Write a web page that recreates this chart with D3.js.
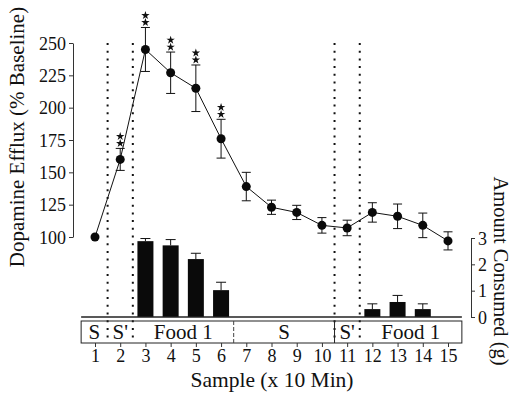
<!DOCTYPE html>
<html>
<head>
<meta charset="utf-8">
<script src="https://cdn.jsdelivr.net/npm/d3@7"></script>
<style>
  body { margin: 0; background: #fff; }
</style>
</head>
<body>
<svg id="chart" width="513" height="395" font-family="Liberation Serif"></svg>
<script>
var samples = [1,2,3,4,5,6,7,8,9,10,11,12,13,14,15]
var efflux = [100,160,245,227,215,176,139,123,119,109,107,119,116,109,97]
var effluxErr = [0,8.5,17,16,18,15,11,5.5,5.5,6,6,7.5,9.5,9.5,7]
var stars = [2,3,4,5,6]
var foodSamples = [3,4,5,6,12,13,14]
var foodAmount = [2.88,2.72,2.2,1.02,0.3,0.57,0.3]
var foodErr = [0.1,0.22,0.22,0.3,0.2,0.25,0.2]
var phases = [
  {label: "S", from: 0.45, to: 1.5},
  {label: "S'", from: 1.5, to: 2.5},
  {label: "Food 1", from: 2.5, to: 6.5},
  {label: "S", from: 6.5, to: 10.5},
  {label: "S'", from: 10.5, to: 11.5},
  {label: "Food 1", from: 11.5, to: 15.55}
]
var dividers = [1.5, 2.5, 10.5, 11.5]
var serif = "Liberation Serif"

var svg = d3.select("#chart")

var xScale = d3.scaleLinear().domain([1, 15]).range([95, 448])
var yScale = d3.scaleLinear().domain([100, 250]).range([237, 43])
var gScale = d3.scaleLinear().domain([0, 3]).range([317, 238])

// dotted phase lines
svg.append("g").selectAll("line")
   .data(dividers)
   .enter()
   .append("line")
   .attr("x1", d => xScale(d)).attr("x2", d => xScale(d))
   .attr("y1", 43).attr("y2", 343)
   .attr("stroke", "#111")
   .attr("stroke-width", 2)
   .attr("stroke-dasharray", "2,5.7")

// bars
svg.append("g").selectAll("rect")
   .data(foodSamples)
   .enter()
   .append("rect")
   .attr("x", d => xScale(d) - 8)
   .attr("y", (d, i) => gScale(foodAmount[i]))
   .attr("width", 16)
   .attr("height", (d, i) => gScale(0) - gScale(foodAmount[i]))
   .attr("fill", "#0a0a0a")

var barErr = svg.append("g").attr("stroke", "#111").attr("stroke-width", 1)
foodSamples.forEach(function(d, i) {
  var top = gScale(foodAmount[i] + foodErr[i])
  barErr.append("line").attr("x1", xScale(d)).attr("x2", xScale(d))
        .attr("y1", gScale(foodAmount[i])).attr("y2", top)
  barErr.append("line").attr("x1", xScale(d) - 5).attr("x2", xScale(d) + 5)
        .attr("y1", top).attr("y2", top)
})

// baseline of bars
svg.append("line")
   .attr("x1", xScale(0.45)).attr("x2", xScale(15.55))
   .attr("y1", gScale(0)).attr("y2", gScale(0))
   .attr("stroke", "#222").attr("stroke-width", 1.5)

// phase band
var band = svg.append("g")
band.append("rect")
    .attr("x", xScale(0.45)).attr("y", 321)
    .attr("width", xScale(15.55) - xScale(0.45)).attr("height", 22)
    .attr("fill", "none").attr("stroke", "#222").attr("stroke-width", 1)
band.append("line")
    .attr("x1", xScale(6.5)).attr("x2", xScale(6.5))
    .attr("y1", 321).attr("y2", 343)
    .attr("stroke", "#444").attr("stroke-width", 1).attr("stroke-dasharray", "4,2")
band.append("line")
    .attr("x1", xScale(10.5)).attr("x2", xScale(10.5))
    .attr("y1", 321).attr("y2", 343)
    .attr("stroke", "#222").attr("stroke-width", 1)
band.selectAll("text")
    .data(phases)
    .enter()
    .append("text")
    .attr("x", d => xScale((d.from + d.to) / 2))
    .attr("y", 339)
    .attr("text-anchor", "middle")
    .attr("font-family", serif)
    .attr("font-size", 21)
    .attr("fill", "#111")
    .text(d => d.label)

// efflux error bars
var errG = svg.append("g").attr("stroke", "#111").attr("stroke-width", 1)
samples.forEach(function(d, i) {
  if (!effluxErr[i]) return
  var hi = yScale(efflux[i] + effluxErr[i]), lo = yScale(efflux[i] - effluxErr[i])
  errG.append("line").attr("x1", xScale(d)).attr("x2", xScale(d)).attr("y1", hi).attr("y2", lo)
  errG.append("line").attr("x1", xScale(d) - 4.5).attr("x2", xScale(d) + 4.5).attr("y1", hi).attr("y2", hi)
  errG.append("line").attr("x1", xScale(d) - 4.5).attr("x2", xScale(d) + 4.5).attr("y1", lo).attr("y2", lo)
})

// line + points
var lineGen = d3.line().x(d => xScale(d)).y((d, i) => yScale(efflux[i]))
svg.append("path")
   .datum(samples)
   .attr("d", lineGen)
   .attr("fill", "none")
   .attr("stroke", "#111")
   .attr("stroke-width", 1)

svg.append("g").selectAll("circle")
   .data(samples)
   .enter()
   .append("circle")
   .attr("cx", d => xScale(d))
   .attr("cy", (d, i) => yScale(efflux[i]))
   .attr("r", 4.5)
   .attr("fill", "#0a0a0a")

// significance stars
var starSym = d3.symbol().type(d3.symbolStar).size(22)
var starG = svg.append("g")
stars.forEach(function(s) {
  var i = samples.indexOf(s)
  var top = yScale(efflux[i] + effluxErr[i])
  ;[5, 12].forEach(function(off) {
    starG.append("path")
         .attr("d", starSym())
         .attr("transform", `translate(${xScale(s)},${top - off})`)
         .attr("fill", "#111")
  })
})

// left axis
var yAxis = svg.append("g")
   .attr("transform", "translate(73,0)")
   .call(d3.axisLeft(yScale).tickValues([100,125,150,175,200,225,250]).tickSize(4).tickSizeOuter(0).tickPadding(3))
yAxis.attr("font-family", serif).attr("font-size", 18)
yAxis.selectAll("text").attr("fill", "#111").attr("dy", "0.35em")
yAxis.selectAll("line, path").attr("stroke", "#333")

// right axis
var gAxis = svg.append("g")
   .attr("transform", "translate(471,0)")
   .call(d3.axisRight(gScale).tickValues([0,1,2,3]).tickFormat(d3.format("d")).tickSize(4).tickSizeOuter(0).tickPadding(3))
gAxis.attr("font-family", serif).attr("font-size", 18)
gAxis.selectAll("text").attr("fill", "#111").attr("dy", "0.35em")
gAxis.selectAll("line, path").attr("stroke", "#333")

// bottom axis
var xAxis = svg.append("g")
   .attr("transform", "translate(0,343)")
   .call(d3.axisBottom(xScale).tickValues(samples).tickSize(4).tickPadding(2))
xAxis.attr("font-family", serif).attr("font-size", 18)
xAxis.select(".domain").remove()
xAxis.selectAll("text").attr("fill", "#111")
xAxis.selectAll("line").attr("stroke", "#333")

// titles
svg.append("text")
   .attr("x", 272).attr("y", 387)
   .attr("text-anchor", "middle")
   .attr("font-family", serif)
   .attr("font-size", 21.5)
   .attr("fill", "#111")
   .text("Sample (x 10 Min)")

svg.append("text")
   .attr("transform", "translate(24,137) rotate(-90)")
   .attr("text-anchor", "middle")
   .attr("font-family", serif)
   .attr("font-size", 21)
   .attr("fill", "#111")
   .text("Dopamine Efflux (% Baseline)")

svg.append("text")
   .attr("transform", "translate(494,271) rotate(90)")
   .attr("text-anchor", "middle")
   .attr("font-family", serif)
   .attr("font-size", 20.5)
   .attr("fill", "#111")
   .text("Amount Consumed (g)")
</script>
</body>
</html>
